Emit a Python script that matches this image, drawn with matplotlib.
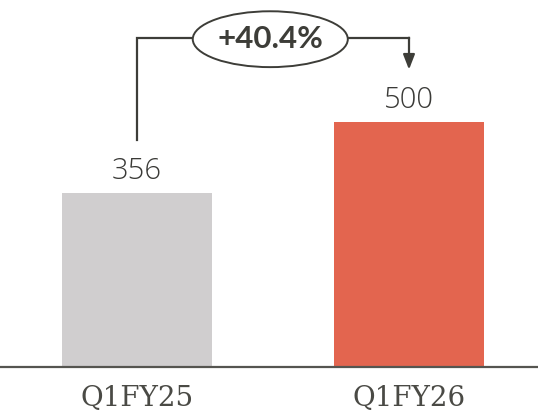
import matplotlib.pyplot as plt
from matplotlib.patches import Ellipse

categories = ['Q1FY25', 'Q1FY26']
values = [356, 500]
change_label = '+40.4%'

bar_colors = ['#d0cecf', '#e3654f']
ink = '#3d3d38'


def main():
    fig = plt.figure(figsize=(5.38, 4.19), dpi=100)
    ax = fig.add_axes([0, 52 / 419, 1, 367 / 419])

    x = list(range(len(categories)))
    ax.bar(x, values, width=0.555, color=bar_colors, zorder=2)

    # value labels above bars
    for xi, v in zip(x, values):
        ax.annotate(str(v), (xi, v), xytext=(0, 10), textcoords='offset points',
                    ha='center', va='baseline', fontsize=21, color='#3a3a37',
                    family='Open Sans', fontweight='light')

    # bracket showing the change
    y_start = values[0] + 107
    y_end = values[1] + 107
    y_top = max(values) + 171
    ax.plot([x[0], x[0], x[1]], [y_start, y_top, y_top], color=ink, lw=1.6,
            solid_joinstyle='miter', zorder=1)
    ax.annotate('', xy=(x[1], y_end), xytext=(x[1], y_top + 1),
                arrowprops=dict(arrowstyle='-|>,head_length=0.9,head_width=0.35',
                                color=ink, lw=1.6, shrinkA=0, shrinkB=0))
    mid = (x[0] + x[1]) / 2
    ax.add_patch(Ellipse((mid - 0.01, y_top - 2), 0.57, 114, facecolor='white',
                         edgecolor=ink, lw=1.4, zorder=3))
    ax.text(mid - 0.01, y_top - 2, change_label, ha='center', va='center',
            fontsize=22.5, fontweight='bold', color=ink, family='Lato', zorder=4)

    ax.set_xlim(-137 / 272, (538 - 137) / 272)
    ax.set_ylim(0, 749)
    ax.set_xticks(x)
    ax.set_xticklabels(categories, family='DejaVu Serif', fontsize=20,
                       color='#4a4a45')
    ax.tick_params(axis='x', length=0, pad=13)
    ax.set_yticks([])
    for side in ['top', 'right', 'left']:
        ax.spines[side].set_visible(False)
    ax.spines['bottom'].set_color('#555550')
    ax.spines['bottom'].set_linewidth(1.6)

    fig.savefig('out.png', dpi=100)


if __name__ == '__main__':
    main()
